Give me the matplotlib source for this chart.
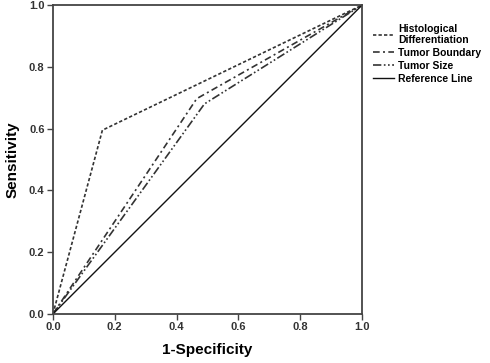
import numpy as np
import matplotlib.pyplot as plt

plt.rcParams['font.family'] = ['Liberation Sans', 'DejaVu Sans']

# ROC curve points
fpr_hist = [0.0, 0.16, 1.0]
tpr_hist = [0.0, 0.595, 1.0]
fpr_boundary = [0.0, 0.465, 1.0]
tpr_boundary = [0.0, 0.697, 1.0]
fpr_size = [0.0, 0.49, 1.0]
tpr_size = [0.0, 0.68, 1.0]
ref = [0.0, 1.0]

labels = ["Histological\nDifferentiation", "Tumor Boundary", "Tumor Size", "Reference Line"]
ticks = [0.0, 0.2, 0.4, 0.6, 0.8, 1.0]

fig = plt.figure(figsize=(4.9, 3.63), dpi=100)
ax = fig.add_axes([0.108, 0.135, 0.631, 0.851])

ax.plot(fpr_hist, tpr_hist, color="#333333", lw=1.2, linestyle=(0, (2, 1.3)), label=labels[0])
ax.plot(fpr_boundary, tpr_boundary, color="#333333", lw=1.2, linestyle=(0, (4, 2, 1.2, 2)), label=labels[1])
ax.plot(fpr_size, tpr_size, color="#333333", lw=1.2, linestyle=(0, (5, 1.5, 1, 1.5, 1, 1.5)), label=labels[2])
ax.plot(ref, ref, color="#111111", lw=1.0, label=labels[3])

ax.set_xlim(0, 1)
ax.set_ylim(0, 1)
ax.set_xticks(ticks)
ax.set_yticks(ticks)
ax.set_xticklabels([f"{t:.1f}" for t in ticks], fontsize=8, fontweight="bold", color="#333333")
ax.set_yticklabels([f"{t:.1f}" for t in ticks], fontsize=8, fontweight="bold", color="#333333")
ax.tick_params(direction="out", length=4, width=1, color="#444444", pad=2)
for s in ax.spines.values():
    s.set_color("#444444")
    s.set_linewidth(1.3)

ax.set_xlabel("1-Specificity", fontsize=11, fontweight="bold", labelpad=8)
ax.set_ylabel("Sensitivity", fontsize=11, fontweight="bold", labelpad=7)

fig.legend(loc="upper left", bbox_to_anchor=(0.745, 0.958), frameon=False,
           prop={"size": 7.5, "weight": "bold"}, handlelength=2.0, handletextpad=0.4,
           labelspacing=0.28, borderpad=0.3)

fig.savefig("out.png", dpi=100)
